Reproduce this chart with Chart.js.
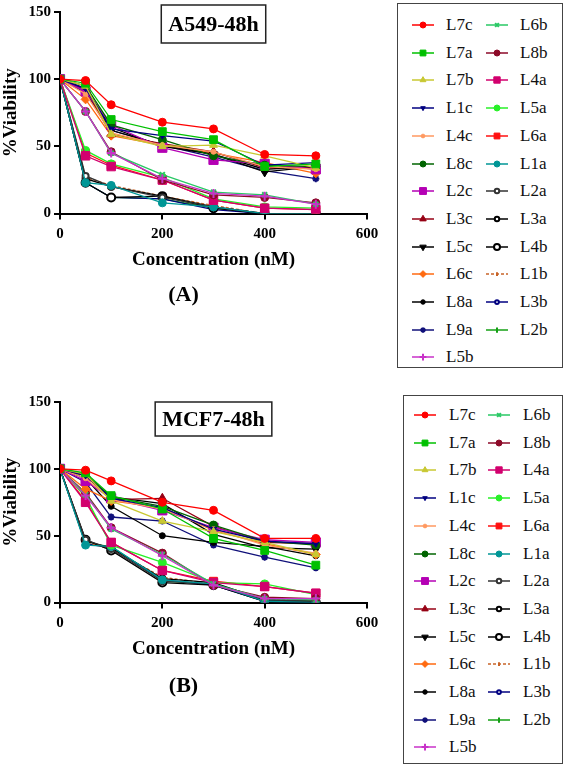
<!DOCTYPE html>
<html>
<head>
<meta charset="utf-8">
<script src="https://cdn.jsdelivr.net/npm/chart.js"></script>
<style>
    body { margin: 0; background: #fff; width: 567px; height: 767px; position: relative; overflow: hidden;
           font-family: "Liberation Serif", "Times New Roman", serif; }
    canvas.plot { position: absolute; left: 0; }
    .leyenda { position: absolute; border: 1.5px solid #444; box-sizing: border-box; }
    .item { position: absolute; }
    .item canvas { position: absolute; left: 0; top: 0; }
    .item span { position: absolute; top: 0; font-family: "Liberation Serif", "Times New Roman", serif;
                 font-size: 17px; line-height: 20px; color: #111; white-space: nowrap; }
</style>
</head>
<body>
<canvas id="graficaA549" class="plot" width="385" height="317" style="top:0"></canvas>
<canvas id="graficaMCF7" class="plot" width="385" height="318" style="top:390px"></canvas>
<div id="leyendaA549" class="leyenda"></div>
<div id="leyendaMCF7" class="leyenda"></div>
<script>
// ======================
// DATOS
// ======================
const concentraciones = [0, 50, 100, 200, 300, 400, 500];
const ticksX = [0, 200, 400, 600];
const ticksY = [0, 50, 100, 150];

const compuestos = ["L7c", "L7a", "L7b", "L1c", "L4c", "L8c", "L2c", "L3c", "L5c", "L6c", "L8a", "L9a", "L5b",
                    "L6b", "L8b", "L4a", "L5a", "L6a", "L1a", "L2a", "L3a", "L4b", "L1b", "L3b", "L2b"];

// %Viabilidad A549-48h (mismo orden que compuestos)
const viabilidadA549 = [
    [100, 99, 81, 68, 63, 44, 43],
    [100, 97, 70, 61, 55, 35, 37],
    [100, 95, 59, 50, 51, 43, 34],
    [100, 93, 63, 58, 54, 36, 38],
    [100, 89, 60, 51, 46, 35, 33],
    [100, 95, 66, 55, 43, 36, 35],
    [100, 91, 66, 49, 40, 37, 33],
    [100, 92, 59, 52, 46, 34, 35],
    [100, 92, 62, 51, 44, 31, 35],
    [100, 85, 58, 51, 45, 38, 30],
    [100, 93, 64, 50, 44, 33, 35],
    [100, 90, 62, 51, 42, 32, 26],
    [100, 76, 45, 26, 15, 13, 7],
    [100, 76, 45, 29, 16, 14, 7],
    [100, 76, 46, 25, 14, 12, 8],
    [100, 43, 35, 25, 10, 4, 3],
    [100, 47, 37, 27, 11, 5, 4],
    [100, 45, 36, 25, 10, 4, 3],
    [100, 23, 21, 8, 5, 0, 0],
    [100, 28, 20, 12, 5, 0, 0],
    [100, 26, 20, 13, 5, 0, 0],
    [100, 23, 12, 13, 4, 0, 0],
    [100, 27, 21, 13, 6, 0, 0],
    [100, 23, 12, 11, 3, 0, 0],
    [100, 23, 12, 11, 4, 0, 0]
];

// %Viabilidad MCF7-48h
const viabilidadMCF7 = [
    [100, 99, 91, 75, 69, 48, 48],
    [100, 97, 80, 70, 48, 39, 28],
    [100, 96, 76, 61, 53, 45, 36],
    [100, 95, 78, 71, 55, 46, 44],
    [100, 93, 77, 70, 55, 43, 37],
    [100, 96, 79, 72, 58, 46, 43],
    [100, 91, 78, 69, 56, 47, 45],
    [100, 95, 77, 78, 57, 45, 44],
    [100, 95, 79, 74, 51, 41, 40],
    [100, 85, 76, 71, 54, 44, 36],
    [100, 93, 72, 50, 45, 42, 35],
    [100, 90, 64, 61, 43, 34, 26],
    [100, 80, 56, 35, 13, 3, 3],
    [100, 81, 55, 36, 14, 3, 2],
    [100, 82, 56, 37, 13, 4, 3],
    [100, 75, 45, 24, 15, 12, 7],
    [100, 79, 43, 30, 15, 14, 6],
    [100, 76, 45, 24, 16, 12, 7],
    [100, 43, 42, 17, 14, 1, 0],
    [100, 47, 40, 16, 14, 2, 1],
    [100, 46, 41, 18, 15, 2, 1],
    [100, 47, 39, 15, 13, 1, 0],
    [100, 45, 40, 19, 14, 3, 1],
    [100, 44, 41, 17, 13, 1, 0],
    [100, 44, 42, 16, 14, 2, 1]
];

// ======================
// ESTILOS
// ======================
const colores = ["#ff0000", "#00c000", "#c8c832", "#000080", "#ff9960", "#006400", "#b400b4", "#960014", "#000000",
                 "#ff6a10", "#000000", "#10107a", "#c832c8", "#28c864", "#8c0a28", "#d2006e", "#28f028", "#ff1010",
                 "#009696", "#333333", "#000000", "#000000", "#c86428", "#000080", "#14a014"];
const rellenos = colores.map((c, i) => [19, 20, 21, 23].includes(i) ? "#ffffff" : c);
const marcadores = ["circle", "rect", "triangle", "triangle", "circle", "circle", "rect", "triangle", "triangle",
                    "rectRot", "circle", "star", "cross", "crossRot", "circle", "rect", "circle", "rect",
                    "circle", "circle", "circle", "circle", "line", "circle", "line"];
const rotaciones = [0, 0, 0, 180, 0, 0, 0, 0, 180, 0, 0, 0, 0, 0, 0, 0, 0, 0, 0, 0, 0, 0, 90, 0, 90];
const radios = [4, 5.5, 4.5, 3.5, 2.5, 4, 6.5, 5, 5, 4.5, 3, 3.5, 4.5, 3.5, 4, 6, 4, 5.5, 4, 3, 3, 4, 2.5, 2.5, 3.5];
const bordesPunto = [1, 1, 1, 1, 1, 1, 1, 1, 1, 1, 1, 2, 2, 2, 1, 1, 1, 1, 1, 2, 2, 2, 2, 2, 2];

const FUENTE = '"Liberation Serif", "Times New Roman", serif';

// ======================
// CAJA DEL TITULO
// ======================
const cajaTitulo = {
    id: "cajaTitulo",
    afterDraw(chart, args, opts) {
        const { ctx, chartArea } = chart;
        ctx.save();
        ctx.font = "bold 22px " + FUENTE;
        const w = ctx.measureText(opts.texto).width + 14;
        const cx = (chartArea.left + chartArea.right) / 2;
        const cy = chartArea.top + opts.dy;
        ctx.fillStyle = "#fff";
        ctx.fillRect(cx - w / 2, cy - opts.alto / 2, w, opts.alto);
        ctx.strokeStyle = "#222";
        ctx.lineWidth = 1.5;
        ctx.strokeRect(cx - w / 2, cy - opts.alto / 2, w, opts.alto);
        ctx.fillStyle = "#000";
        ctx.textAlign = "center";
        ctx.textBaseline = "middle";
        ctx.fillText(opts.texto, cx, cy + 1);
        ctx.restore();
    }
};

function armarDatasets(valores) {
    return compuestos.map((nombre, i) => ({
        label: nombre,
        data: concentraciones.map((c, j) => ({ x: c, y: valores[i][j] })),
        borderColor: colores[i],
        backgroundColor: rellenos[i],
        borderWidth: 1.3,
        borderDash: nombre === "L1b" ? [3, 2] : [],
        pointStyle: marcadores[i],
        pointRotation: rotaciones[i],
        pointRadius: radios[i],
        pointBackgroundColor: rellenos[i],
        pointBorderColor: colores[i],
        pointBorderWidth: bordesPunto[i],
        tension: 0
    }));
}

function dibujarGrafica(id, valores, titulo, letra, caja, paddingLetra) {
    const ctx = document.getElementById(id).getContext("2d");
    return new Chart(ctx, {
        type: "line",
        data: { datasets: armarDatasets(valores) },
        plugins: [cajaTitulo],
        options: {
            responsive: false,
            animation: false,
            layout: { padding: { top: 10, right: 18, left: 0, bottom: 0 } },
            plugins: {
                legend: { display: false },
                tooltip: { enabled: false },
                title: {
                    display: true,
                    position: "bottom",
                    text: letra,
                    color: "#000",
                    font: { family: FUENTE, size: 22, weight: "bold" },
                    padding: paddingLetra
                },
                cajaTitulo: { texto: titulo, dy: caja.dy, alto: caja.alto }
            },
            scales: {
                x: {
                    type: "linear",
                    min: 0,
                    max: 600,
                    afterBuildTicks: s => { s.ticks = ticksX.map(v => ({ value: v })); },
                    afterFit: s => { s.height = 62; },
                    ticks: { color: "#000", padding: 6, font: { family: FUENTE, size: 15, weight: "bold" } },
                    grid: { drawOnChartArea: false, color: "#000", lineWidth: 2, tickLength: 6 },
                    border: { color: "#000", width: 2 },
                    title: {
                        display: true,
                        text: "Concentration (nM)",
                        color: "#000",
                        font: { family: FUENTE, size: 19, weight: "bold" },
                        padding: { top: 0, bottom: 4 }
                    }
                },
                y: {
                    type: "linear",
                    min: 0,
                    max: 150,
                    afterBuildTicks: s => { s.ticks = ticksY.map(v => ({ value: v })); },
                    afterFit: s => { s.width = 60; },
                    ticks: { color: "#000", padding: 3, font: { family: FUENTE, size: 15, weight: "bold" } },
                    grid: { drawOnChartArea: false, color: "#000", lineWidth: 2, tickLength: 6 },
                    border: { color: "#000", width: 2 },
                    title: {
                        display: true,
                        text: "%Viability",
                        color: "#000",
                        font: { family: FUENTE, size: 19, weight: "bold" },
                        padding: { top: 0, bottom: 0 }
                    }
                }
            }
        }
    });
}

// ======================
// LEYENDA
// ======================
function dibujarLeyenda(id, caja, filas) {
    const el = document.getElementById(id);
    el.style.left = caja.left + "px";
    el.style.top = caja.top + "px";
    el.style.width = caja.width + "px";
    el.style.height = caja.height + "px";

    compuestos.forEach((nombre, i) => {
        const col = i < 13 ? 0 : 1;
        const fila = i < 13 ? i : i - 13;
        const item = document.createElement("div");
        item.className = "item";
        item.style.left = filas.colX[col] + "px";
        item.style.top = (filas.y0 + fila * filas.paso - 10) + "px";

        const cv = document.createElement("canvas");
        cv.width = 24;
        cv.height = 20;
        const c = cv.getContext("2d");
        c.strokeStyle = colores[i];
        c.lineWidth = 1.5;
        if (nombre === "L1b") c.setLineDash([3, 2]);
        c.beginPath();
        c.moveTo(0, 10);
        c.lineTo(22, 10);
        c.stroke();
        c.setLineDash([]);
        c.fillStyle = rellenos[i];
        c.lineWidth = bordesPunto[i];
        if (Chart.helpers && Chart.helpers.drawPoint) {
            Chart.helpers.drawPoint(c, {
                pointStyle: marcadores[i],
                rotation: rotaciones[i],
                radius: radios[i] * 0.75,
                borderWidth: bordesPunto[i]
            }, 11, 10);
        }
        item.appendChild(cv);

        const txt = document.createElement("span");
        txt.style.left = filas.texto + "px";
        txt.innerText = nombre;
        item.appendChild(txt);
        el.appendChild(item);
    });
}

dibujarGrafica("graficaA549", viabilidadA549, "A549-48h", "(A)", { dy: 12, alto: 38 }, { top: 7, bottom: 8 });
dibujarGrafica("graficaMCF7", viabilidadMCF7, "MCF7-48h", "(B)", { dy: 17, alto: 34 }, { top: 9, bottom: 8 });

dibujarLeyenda("leyendaA549", { left: 397, top: 3, width: 166, height: 365 }, { y0: 21, paso: 27.7, colX: [14, 88], texto: 34 });
dibujarLeyenda("leyendaMCF7", { left: 403, top: 395, width: 160, height: 369 }, { y0: 19, paso: 27.7, colX: [10, 84], texto: 35 });
</script>
</body>
</html>
